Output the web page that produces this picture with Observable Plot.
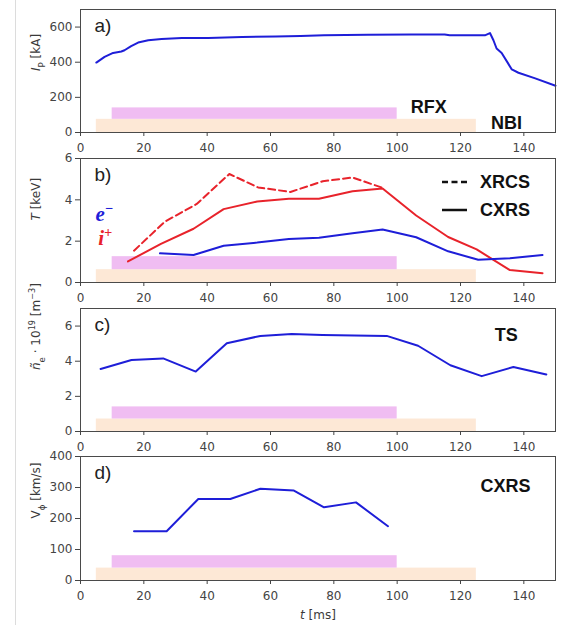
<!DOCTYPE html>
<html><head><meta charset="utf-8">
<script src="https://cdn.jsdelivr.net/npm/d3@7"></script>
<script src="https://cdn.jsdelivr.net/npm/@observablehq/plot@0.6"></script>
<style>
body{margin:0;background:#fff;}
#wrap{position:relative;width:563px;height:630px;overflow:hidden;background:#fff;}
#wrap > svg{position:absolute;left:0;}
#edge{position:absolute;left:15px;top:0;width:1px;height:625px;background:#dcdcdc;}
</style></head><body><div id="wrap"><div id="edge"></div></div>
<script>
// ---------- data ----------
const xTicks = [0, 20, 40, 60, 80, 100, 120, 140];

// heating windows (ms)
const heating = ["NBI", "RFX"];
const heatStart = [5, 10];
const heatEnd = [125, 100];
const heatColors = ["#fde8d6", "#f0bdf2"];

// a) plasma current
const ipTime = [5, 7.6, 10.3, 12.9, 13.9, 16, 18.2, 21.4, 25.6, 32, 40.4, 51, 61.6, 69.5, 76.9, 90.7, 104.4, 115, 116.6, 127.7, 129.3, 130.4, 131.4, 133, 136.2, 138.3, 143.6, 150];
const ipKA   = [398, 430, 453, 461, 468, 492, 512, 525, 532, 538, 538, 543, 547, 549, 553, 557, 558, 558, 553, 553, 566, 525, 478, 453, 359, 340, 308, 266];
const yTicksA = [0, 200, 400, 600];
const barLowA = [0, 75], barHighA = [75, 140];

// b) temperatures
const tiCxrsTime = [15, 25.4, 35.7, 45.2, 55.8, 65.8, 75.3, 85.9, 95.4, 106, 116.1, 125.1, 135.6, 145.9];
const tiCxrs     = [1.02, 1.87, 2.6, 3.55, 3.92, 4.05, 4.05, 4.42, 4.55, 3.24, 2.2, 1.6, 0.6, 0.45];
const tiXrcsTime = [16.9, 26.7, 36.7, 47, 56.1, 66.3, 76.5, 85.9, 96];
const tiXrcs     = [1.54, 2.95, 3.8, 5.25, 4.6, 4.38, 4.9, 5.08, 4.55];
const teTime = [25.1, 35.7, 45.2, 55.8, 65.8, 75.3, 85.9, 95.4, 106, 116.1, 125.6, 135.6, 145.9];
const te     = [1.41, 1.33, 1.78, 1.93, 2.11, 2.17, 2.38, 2.56, 2.19, 1.51, 1.1, 1.17, 1.33];
const yTicksB = [0, 2, 4, 6];
const barLowB = [0, 0.62], barHighB = [0.62, 1.25];

// c) line-averaged density (TS)
const neTime = [6.35, 16.1, 26.1, 36.4, 46.2, 56.8, 66.7, 76.4, 86.4, 96.7, 106.6, 116.8, 126.7, 136.7, 147.1];
const ne     = [3.56, 4.07, 4.16, 3.41, 5.02, 5.44, 5.55, 5.49, 5.46, 5.44, 4.88, 3.77, 3.15, 3.67, 3.24];
const yTicksC = [0, 2, 4, 6];
const barLowC = [0, 0.71], barHighC = [0.71, 1.4];

// d) toroidal rotation (CXRS)
const vTime = [16.9, 27.2, 37.2, 47.3, 56.8, 67.4, 76.9, 87, 97.1];
const vPhi  = [159, 159, 263, 263, 296, 290, 236, 252, 175];
const yTicksD = [0, 100, 200, 300, 400];
const barLowD = [0, 40], barHighD = [40, 80];

const legendLabels = ["XRCS", "CXRS"];

// ---------- styles ----------
const BLUE = "#1e1ed8", RED = "#e8232b";
const boldFont = "Liberation Sans";

function rich(svg, key, parts) {
  d3.select(svg).selectAll("text").filter(function () { return this.textContent === key; }).each(function () {
    const t = d3.select(this);
    t.text(null);
    for (const p of parts) {
      const s = t.append("tspan").text(p.t);
      if (p.i) s.attr("font-style", "italic");
      if (p.sub) s.attr("font-size", "72%").attr("baseline-shift", "sub");
      if (p.sup) s.attr("font-size", "68%").attr("baseline-shift", "super");
    }
  });
}

function panel({top, marginTop, height, marginBottom, yDomain, yTicks, barLow, barHigh, tag, ylabel, marks = []}) {
  const idx = heating.map((_, i) => i);
  const chart = Plot.plot({
    width: 563, height, marginLeft: 80, marginRight: 8, marginTop, marginBottom,
    style: {background: "transparent", overflow: "visible", fontFamily: "DejaVu Sans", fontSize: "12px", color: "#444"},
    x: {domain: [0, 150]},
    y: {domain: yDomain},
    color: {domain: heating, range: heatColors},
    marks: [
      Plot.rect(idx, {x1: i => heatStart[i], x2: i => heatEnd[i], y1: i => barLow[i], y2: i => barHigh[i], fill: i => heating[i]}),
      ...marks,
      Plot.frame({stroke: "#4a4a4a", strokeWidth: 1}),
      Plot.axisX({ticks: xTicks, tickFormat: d => String(d), tickSize: 4, tickPadding: 7, label: null}),
      Plot.axisY({ticks: yTicks, tickFormat: d => String(d), tickSize: 5, tickPadding: 3, label: null}),
      Plot.text([tag], {text: d => d, frameAnchor: "top-left", dx: 14, dy: 16.5, lineAnchor: "middle", textAnchor: "start", fontSize: 19, fontFamily: "Liberation Sans", fill: "#222"}),
      Plot.text([ylabel], {text: d => d, frameAnchor: "left", dx: -44, rotate: -90, lineAnchor: "middle", fontSize: 12, fontFamily: "DejaVu Sans", fill: "#3a3a3a"})
    ]
  });
  chart.style.top = top + "px";
  document.getElementById("wrap").appendChild(chart);
  return chart;
}

const boldText = (label, x, y) => Plot.text([label], {text: d => d, x, y, textAnchor: "start", lineAnchor: "middle", fontSize: 18, fontWeight: "bold", fontFamily: boldFont, fill: "#111"});

// a)
const svgA = panel({
  top: 0, marginTop: 9, height: 160, marginBottom: 28, yDomain: [0, 700], yTicks: yTicksA,
  barLow: barLowA, barHigh: barHighA, tag: "a)", ylabel: "I_P [kA]",
  marks: [
    Plot.line(ipKA, {x: ipTime, y: ipKA, stroke: BLUE, strokeWidth: 2}),
    boldText("RFX", 104.3, 143),
    boldText("NBI", 129.6, 55)
  ]
});
rich(svgA, "I_P [kA]", [{t: "I", i: 1}, {t: "P", sub: 1}, {t: " [kA]"}]);

// b)
const serif = {textAnchor: "start", lineAnchor: "middle", fontSize: 21, fontWeight: "bold", fontStyle: "italic", fontFamily: "Liberation Serif"};
const svgB = panel({
  top: 150, marginTop: 8, height: 160, marginBottom: 28, yDomain: [0, 6], yTicks: yTicksB,
  barLow: barLowB, barHigh: barHighB, tag: "b)", ylabel: "T [keV]",
  marks: [
    Plot.line(tiXrcs, {x: tiXrcsTime, y: tiXrcs, stroke: RED, strokeWidth: 2, strokeDasharray: "7,4"}),
    Plot.line(tiCxrs, {x: tiCxrsTime, y: tiCxrs, stroke: RED, strokeWidth: 2}),
    Plot.line(te, {x: teTime, y: te, stroke: BLUE, strokeWidth: 2}),
    Plot.text(["e-"], {...serif, text: d => d, x: 4.7, y: 3.3, fill: BLUE}),
    Plot.text(["i+"], {...serif, text: d => d, x: 5.6, y: 2.12, fill: RED})
  ]
});
rich(svgB, "T [keV]", [{t: "T", i: 1}, {t: " [keV]"}]);
rich(svgB, "e-", [{t: "e"}, {t: "\u2212", sup: 1}]);
rich(svgB, "i+", [{t: "i"}, {t: "+", sup: 1}]);

// legend for panel b
const leg = d3.select("#wrap").append("svg")
  .attr("width", 110).attr("height", 56)
  .style("top", "168px").style("left", "438px");
legendLabels.forEach((lab, k) => {
  const y = 14 + 28 * k;
  leg.append("line").attr("x1", 4).attr("x2", 29).attr("y1", y).attr("y2", y)
    .attr("stroke", "#111").attr("stroke-width", 2.5)
    .attr("stroke-dasharray", k === 0 ? "6,3.5" : null);
  leg.append("text").attr("x", 42).attr("y", y).attr("dy", "0.36em")
    .attr("font-family", boldFont).attr("font-weight", "bold").attr("font-size", 18).attr("fill", "#111").text(lab);
});

// c)
const svgC = panel({
  top: 300, marginTop: 8, height: 159, marginBottom: 28, yDomain: [0, 7], yTicks: yTicksC,
  barLow: barLowC, barHigh: barHighC, tag: "c)", ylabel: "ne-label",
  marks: [
    Plot.line(ne, {x: neTime, y: ne, stroke: BLUE, strokeWidth: 2}),
    boldText("TS", 130.8, 5.5)
  ]
});
rich(svgC, "ne-label", [{t: "\u00f1", i: 1}, {t: "e", sub: 1}, {t: " \u00b7 10"}, {t: "19", sup: 1}, {t: " [m"}, {t: "\u22123", sup: 1}, {t: "]"}]);

// d)
const svgD = panel({
  top: 448, marginTop: 8, height: 182, marginBottom: 50, yDomain: [0, 400], yTicks: yTicksD,
  barLow: barLowD, barHigh: barHighD, tag: "d)", ylabel: "V_phi [km/s]",
  marks: [
    Plot.line(vPhi, {x: vTime, y: vPhi, stroke: BLUE, strokeWidth: 2}),
    boldText("CXRS", 126.3, 304),
    Plot.text(["t [ms]"], {text: d => d, frameAnchor: "bottom", dy: 35, lineAnchor: "middle", fontSize: 12, fontFamily: "DejaVu Sans", fill: "#3a3a3a"})
  ]
});
rich(svgD, "V_phi [km/s]", [{t: "V"}, {t: "\u03d5", sub: 1}, {t: " [km/s]"}]);
rich(svgD, "t [ms]", [{t: "t", i: 1}, {t: " [ms]"}]);
</script></body></html>
